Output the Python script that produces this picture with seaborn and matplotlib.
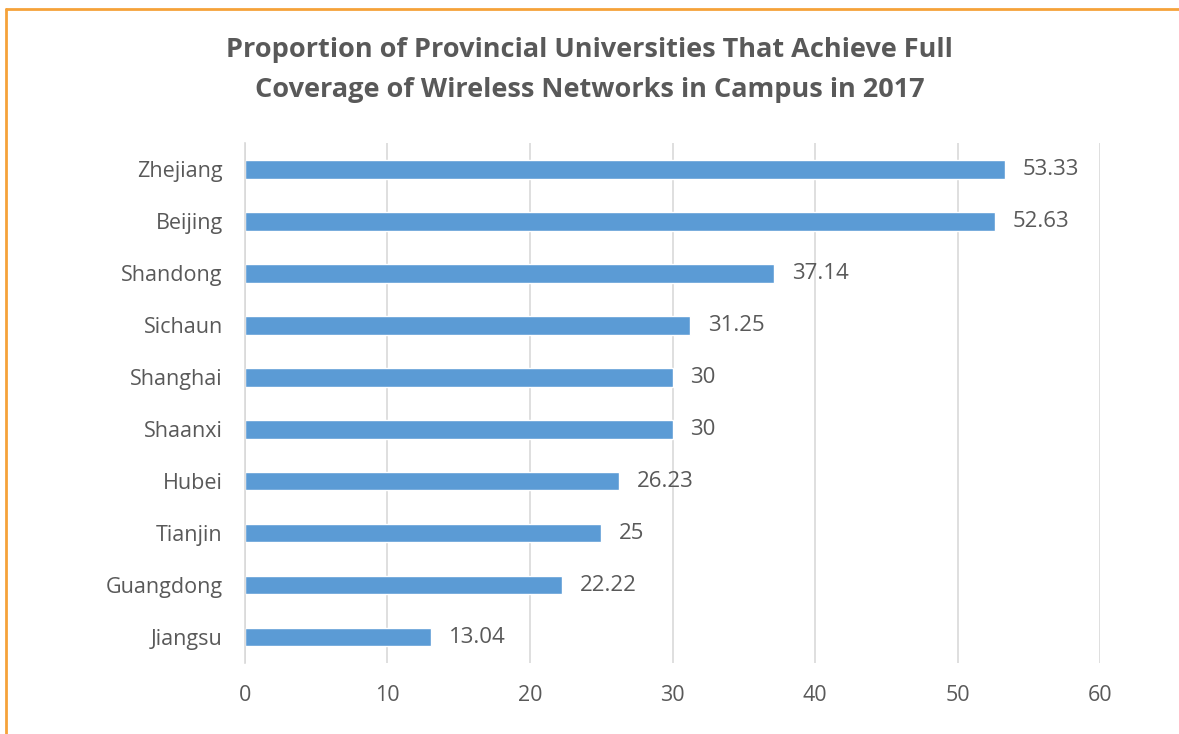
import matplotlib
matplotlib.use("Agg")
import matplotlib.pyplot as plt
import seaborn as sns
import pandas as pd
from matplotlib.lines import Line2D

provinces = ["Zhejiang", "Beijing", "Shandong", "Sichaun", "Shanghai",
             "Shaanxi", "Hubei", "Tianjin", "Guangdong", "Jiangsu"]
coverage = [53.33, 52.63, 37.14, 31.25, 30, 30, 26.23, 25, 22.22, 13.04]
value_labels = ["53.33", "52.63", "37.14", "31.25", "30", "30",
                "26.23", "25", "22.22", "13.04"]
x_ticks = [0, 10, 20, 30, 40, 50, 60]

title = ("Proportion of Provincial Universities That Achieve Full\n"
         "Coverage of Wireless Networks in Campus in 2017")

sns.set_theme(style="white")
plt.rcParams["font.family"] = ["Open Sans", "DejaVu Sans"]

text_color = "#595959"
grid_color = "#d9d9d9"
bar_color = "#5b9bd5"

df = pd.DataFrame({"province": provinces, "coverage": coverage})

fig = plt.figure(figsize=(11.79, 7.34), dpi=100)
ax = fig.add_axes([0.2078, 0.0967, 0.7252, 0.708])

sns.barplot(data=df, x="coverage", y="province", orient="h",
            color=bar_color, saturation=1, width=0.36, ax=ax)

ax.set_xlim(0, 60)
ax.set_ylim(9.5, -0.5)
ax.set_xticks(x_ticks)
ax.set_xticklabels([str(t) for t in x_ticks])
ax.set_xlabel("")
ax.set_ylabel("")

ax.xaxis.grid(True, color=grid_color, linewidth=1.2)
ax.set_axisbelow(True)
for side in ["top", "right", "bottom"]:
    ax.spines[side].set_visible(False)
ax.spines["left"].set_color(grid_color)
ax.spines["left"].set_linewidth(1.2)

ax.tick_params(axis="both", length=0, colors=text_color, labelsize=15.5)
ax.tick_params(axis="x", pad=16)
ax.tick_params(axis="y", pad=16)

ax.bar_label(ax.containers[0], labels=value_labels, padding=13,
             fontsize=16, color=text_color)

fig.suptitle(title, x=0.5, y=0.95, fontsize=19.5, fontweight="bold",
             color=text_color, linespacing=1.72)

# Orange frame along left and top edges
fig.add_artist(Line2D([6 / 1179, 6 / 1179], [0, 1 - 9 / 734],
                      transform=fig.transFigure, color="#f5a23a", linewidth=2))
fig.add_artist(Line2D([6 / 1179, 1], [1 - 9 / 734, 1 - 9 / 734],
                      transform=fig.transFigure, color="#f5a23a", linewidth=2))

fig.savefig("out.png", dpi=100, facecolor="white")
